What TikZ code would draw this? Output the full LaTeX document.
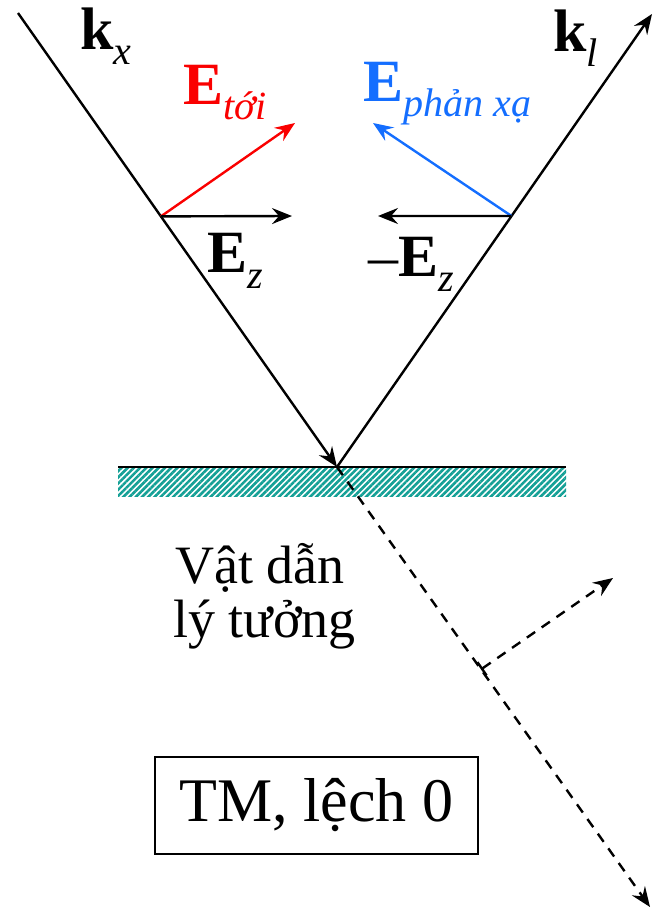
\documentclass[tikz,border=0pt]{standalone}
\usepackage{fontspec}
\setmainfont{Liberation Serif}
\usetikzlibrary{arrows.meta,calc,patterns.meta}

\definecolor{incred}{RGB}{250,0,0}
\definecolor{refblue}{RGB}{20,110,255}
\definecolor{condteal}{RGB}{20,160,150}
\newcommand{\vecsub}[2]{\textbf{#1}\raisebox{-7.5pt}{\fontsize{20}{24}\selectfont\itshape #2}}

\begin{document}
\begin{tikzpicture}[
    x=0.5pt, y=-0.5pt,
    arrow/.style={-{Stealth[length=10pt, width=8pt, inset=3.5pt]}, line width=1.2pt},
    dasharrow/.style={arrow, dash pattern=on 5pt off 4pt},
    lbl/.style={anchor=base west, inner sep=0pt, font=\fontsize{30}{36}\selectfont},
    condtxt/.style={anchor=base west, inner sep=0pt, font=\fontsize{27}{27}\selectfont},
    modebox/.style={draw, line width=1.2pt, inner sep=0pt, minimum width=161.5pt, minimum height=48.5pt, font=\fontsize{31}{36}\selectfont}
]
\useasboundingbox (0,0) rectangle (659,919);

% ideal conductor
\fill[pattern={Lines[angle=45, distance=2.2pt, line width=1.3pt]}, pattern color=condteal] (118,467) rectangle (566,496);
\draw[line width=1.4pt] (118,467) -- (566,467);

\coordinate (src) at (18,13);
\coordinate (hit) at (337,467);
\coordinate (kltip) at (652,14);
\coordinate (ttip) at (650,907);
\coordinate (pA) at ($(src)!0.448!(hit)$);
\coordinate (pB) at ($(hit)!0.554!(kltip)$);
\coordinate (etip) at (295,123);
\coordinate (eztip) at (292,216);
\coordinate (rtip) at (373,123);
\coordinate (mztip) at (378,216);
\coordinate (foot) at ($(hit)!0.46!(ttip)$);
\coordinate (ptip) at (613,578);

\draw[arrow] (src) -- (hit);
\draw[arrow] (hit) -- (kltip);
\draw[dasharrow] (hit) -- (ttip);
\draw[dasharrow, {Bar[width=8pt]}-{Stealth[length=10pt, width=8pt, inset=3.5pt]}] (foot) -- (ptip);

\draw[arrow, incred] (pA) -- (etip);
\draw[arrow] (pA) -- (eztip);
\draw[arrow, refblue] (pB) -- (rtip);
\draw[arrow] (pB) -- (mztip);

\node[lbl] (kx) at (80,50) {\vecsub{k}{x}};
\node[lbl, text=incred] (etoi) at (183,105) {\vecsub{E}{tới}};
\node[lbl] (ez) at (207,273) {\vecsub{E}{z}};
\node[lbl, text=refblue] (epx) at (363,102) {\vecsub{E}{phản xạ}};
\node[lbl] (mez) at (368,277) {–\vecsub{E}{z}};
\node[lbl] (kl) at (553,52) {\vecsub{k}{l}};

\node[condtxt] (cond1) at (175,583) {Vật dẫn};
\node[condtxt] (cond2) at (173,637) {lý tưởng};

\node[modebox] (mode) at (316.5,805.5) {TM, lệch 0};
\end{tikzpicture}
\end{document}
